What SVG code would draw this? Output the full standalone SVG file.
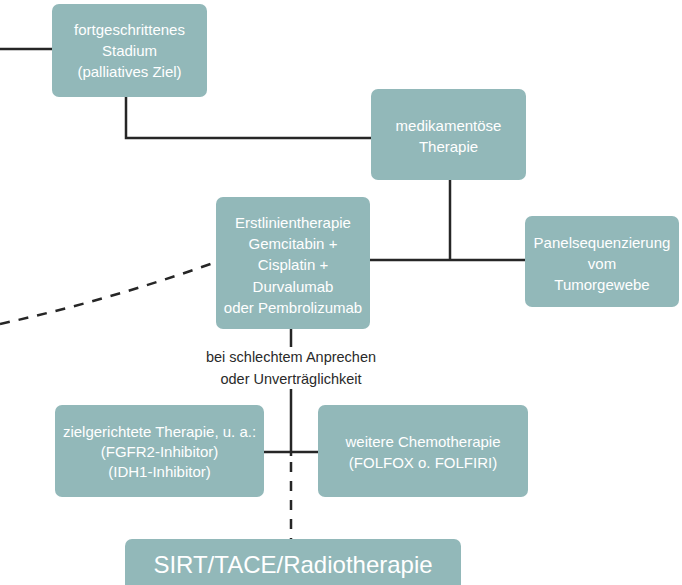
<svg xmlns="http://www.w3.org/2000/svg" width="682" height="585" viewBox="0 0 682 585">
<style>
.box{fill:#92b8b9;}
.t{font-family:"Liberation Sans",Arial,sans-serif;font-size:15px;fill:#ffffff;text-anchor:middle;}
.lbl{font-family:"Liberation Sans",Arial,sans-serif;font-size:14.5px;fill:#2a2a2a;text-anchor:middle;}
.ln{stroke:#262626;stroke-width:2.5;fill:none;}
.dash{stroke:#262626;stroke-width:2.5;fill:none;stroke-dasharray:10 9;}
</style>
<rect width="682" height="585" fill="#ffffff"/>
<g id="connectors">
<path class="ln" d="M0 49 H52"/>
<path class="ln" d="M126 97 V138 H371"/>
<path class="ln" d="M450 180 V260"/>
<path class="ln" d="M370 260 H525"/>
<path class="ln" d="M291 329 V347"/>
<path class="ln" d="M291 389 V456"/>
<path class="ln" d="M264 452 H318"/>
<path class="dash" d="M291 462 V539"/>
<path class="dash" d="M0 324 Q110 300 216 262"/>
</g>
<g id="n-stadium">
<rect class="box" x="52" y="4" width="155" height="93" rx="7"/>
<text class="t" x="129.5" y="35">fortgeschrittenes</text>
<text class="t" x="129.5" y="56">Stadium</text>
<text class="t" x="129.5" y="77">(palliatives Ziel)</text>
</g>
<g id="n-medikament">
<rect class="box" x="371" y="89" width="155" height="91" rx="7"/>
<text class="t" x="448.5" y="131">medikamentöse</text>
<text class="t" x="448.5" y="152">Therapie</text>
</g>
<g id="n-erstlinie">
<rect class="box" x="216" y="197" width="154" height="132" rx="7"/>
<text class="t" x="293" y="228">Erstlinientherapie</text>
<text class="t" x="293" y="249">Gemcitabin +</text>
<text class="t" x="293" y="270">Cisplatin +</text>
<text class="t" x="293" y="292">Durvalumab</text>
<text class="t" x="293" y="313">oder Pembrolizumab</text>
</g>
<g id="n-panel">
<rect class="box" x="525" y="216" width="154" height="91" rx="7"/>
<text class="t" x="602" y="248">Panelsequenzierung</text>
<text class="t" x="602" y="269">vom</text>
<text class="t" x="602" y="290">Tumorgewebe</text>
</g>
<g id="label-anprechen">
<text class="lbl" x="291" y="362">bei schlechtem Anprechen</text>
<text class="lbl" x="291" y="384">oder Unverträglichkeit</text>
</g>
<g id="n-zielgerichtet">
<rect class="box" x="55" y="405" width="209" height="92" rx="7"/>
<text class="t" x="159.5" y="437">zielgerichtete Therapie, u. a.:</text>
<text class="t" x="159.5" y="457">(FGFR2-Inhibitor)</text>
<text class="t" x="159.5" y="477">(IDH1-Inhibitor)</text>
</g>
<g id="n-chemo">
<rect class="box" x="318" y="405" width="210" height="92" rx="7"/>
<text class="t" x="423" y="447">weitere Chemotherapie</text>
<text class="t" x="423" y="468">(FOLFOX o. FOLFIRI)</text>
</g>
<g id="n-sirt">
<rect class="box" x="125" y="539" width="336" height="60" rx="7"/>
<text class="t" x="293" y="573" style="font-size:24px">SIRT/TACE/Radiotherapie</text>
</g>
</svg>
